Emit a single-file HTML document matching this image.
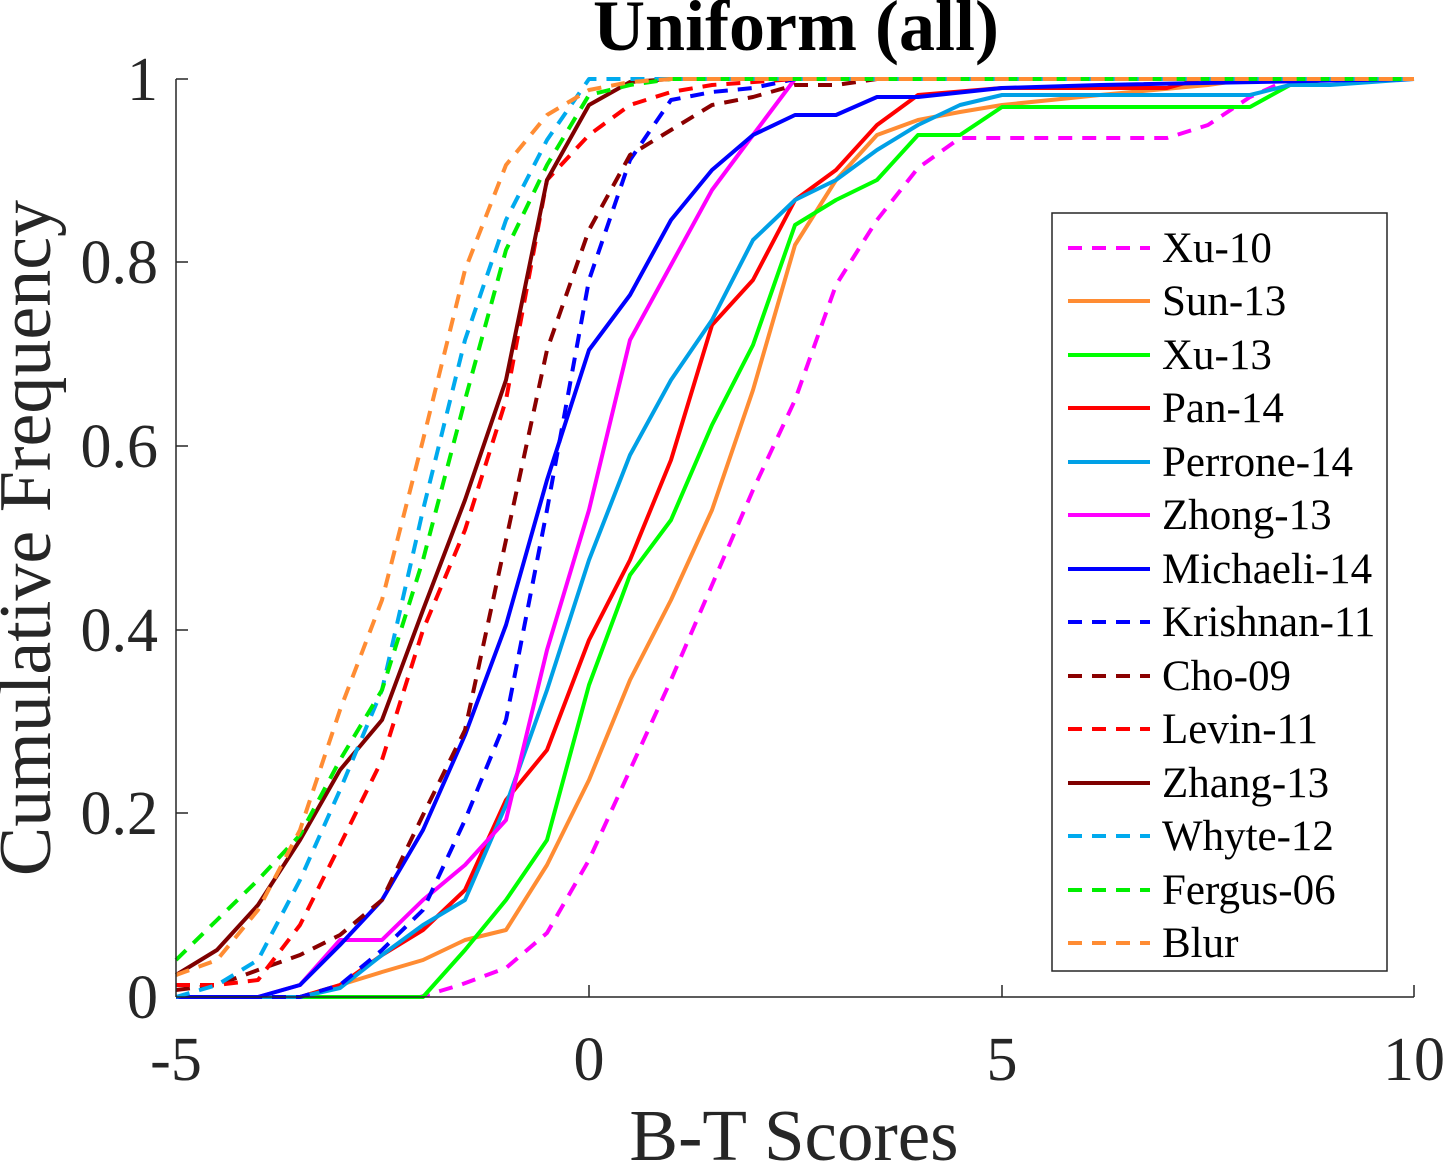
<!DOCTYPE html>
<html><head><meta charset="utf-8"><style>body{margin:0;background:#fff}svg{display:block}</style></head><body>
<svg width="1447" height="1166" xmlns="http://www.w3.org/2000/svg" font-family="Liberation Serif, serif">
<rect width="1447" height="1166" fill="#fff"/>
<g fill="none" stroke-width="4" stroke-linejoin="round">
<polyline stroke="#ff00ff" stroke-dasharray="14 10" points="176,997 420,997 460,985 506,968 547,933 589,860 630,770 671,680 712,585 753,490 795,400 836,285 877,220 918,168 960,138 1002,138 1167,138 1208,125 1250,97 1290,79 1414,79"/>
<polyline stroke="#ff8c33" points="176,997 300,997 340,985 382,972 423,960 465,940 506,930 547,865 589,780 630,680 671,600 712,510 753,390 795,245 836,180 877,135 918,120 960,112 1002,105 1100,95 1208,85 1250,79 1414,79"/>
<polyline stroke="#00ff00" points="176,997 423,997 465,950 506,900 547,840 589,685 630,575 671,520 712,425 753,345 795,225 836,200 877,180 918,135 960,135 1002,107 1250,107 1290,85 1330,79 1414,79"/>
<polyline stroke="#ff0000" points="176,997 300,997 340,985 382,955 423,930 465,890 506,800 547,750 589,640 630,560 671,460 712,325 753,280 795,200 836,170 877,125 918,95 1002,88 1167,88 1200,79 1414,79"/>
<polyline stroke="#00a0e6" points="176,997 300,997 340,988 382,955 423,925 465,900 506,805 547,690 589,560 630,455 671,380 712,320 753,240 795,200 836,180 877,150 918,125 960,105 1002,95 1250,95 1290,85 1330,85 1414,79"/>
<polyline stroke="#ff00ff" points="176,997 258,997 300,985 340,940 382,940 423,900 465,865 506,820 547,650 589,510 630,340 671,265 712,190 753,135 795,79 1414,79"/>
<polyline stroke="#0000ff" points="176,997 258,997 300,985 340,945 382,900 423,830 465,735 506,625 547,480 589,350 630,295 671,220 712,170 753,135 795,115 836,115 877,97 918,97 1002,88 1100,85 1414,79"/>
<polyline stroke="#0000ff" stroke-dasharray="14 10" points="176,997 300,997 340,985 382,950 423,910 465,820 506,720 547,510 589,280 630,160 671,100 712,92 753,88 795,79 1414,79"/>
<polyline stroke="#8b0000" stroke-dasharray="14 10" points="176,990 217,985 258,970 300,955 340,935 382,900 423,815 465,730 506,540 547,350 589,230 630,155 671,130 712,105 753,97 795,85 836,85 877,79 1414,79"/>
<polyline stroke="#ff0000" stroke-dasharray="14 10" points="176,985 217,985 258,980 300,925 340,845 382,760 423,630 465,530 506,400 547,180 589,135 630,105 671,92 712,85 795,79 1414,79"/>
<polyline stroke="#7f0000" points="176,975 217,950 258,905 300,840 340,770 382,720 423,610 465,500 506,380 547,180 589,105 630,82 671,79 1414,79"/>
<polyline stroke="#00aaee" stroke-dasharray="14 10" points="176,997 217,985 258,960 300,880 340,790 382,690 423,510 465,340 506,220 547,140 589,79 1414,79"/>
<polyline stroke="#00ee00" stroke-dasharray="14 10" points="176,960 217,920 258,880 300,835 340,760 382,690 423,560 465,400 506,250 547,165 589,95 630,85 671,79 1414,79"/>
<polyline stroke="#ff8c33" stroke-dasharray="14 10" points="176,975 217,960 258,910 300,830 340,710 382,600 423,440 465,270 506,165 547,115 589,90 630,82 671,79 1414,79"/>
</g>
<g stroke="#262626" stroke-width="1.5" fill="none">
<line x1="176" y1="997" x2="1414" y2="997"/>
<line x1="176" y1="79" x2="176" y2="997"/>
<line x1="589" y1="997" x2="589" y2="985"/><line x1="1002" y1="997" x2="1002" y2="985"/><line x1="1414" y1="997" x2="1414" y2="985"/>
<line x1="176" y1="813" x2="188" y2="813"/><line x1="176" y1="630" x2="188" y2="630"/><line x1="176" y1="446" x2="188" y2="446"/><line x1="176" y1="262" x2="188" y2="262"/><line x1="176" y1="79" x2="188" y2="79"/>
</g>
<g fill="#262626" font-size="62">
<g text-anchor="middle"><text x="176" y="1080">-5</text><text x="589" y="1080">0</text><text x="1002" y="1080">5</text><text x="1414" y="1080">10</text></g>
<g text-anchor="end"><text x="158" y="1018">0</text><text x="158" y="834">0.2</text><text x="158" y="651">0.4</text><text x="158" y="467">0.6</text><text x="158" y="283">0.8</text><text x="158" y="100">1</text></g>
<text x="794" y="1160" text-anchor="middle" font-size="73">B-T Scores</text>
<text transform="translate(50,538) rotate(-90)" text-anchor="middle" font-size="74">Cumulative Frequency</text>
</g>
<text x="796" y="50" text-anchor="middle" font-size="72" font-weight="bold" fill="#000">Uniform (all)</text>
<rect x="1052" y="213" width="335" height="758" fill="#fff" stroke="#262626" stroke-width="1.5"/>
<g stroke-width="4">
<line x1="1068" x2="1150" y1="248" y2="248" stroke="#ff00ff" stroke-dasharray="14 10"/>
<line x1="1068" x2="1150" y1="301" y2="301" stroke="#ff8c33"/>
<line x1="1068" x2="1150" y1="355" y2="355" stroke="#00ff00"/>
<line x1="1068" x2="1150" y1="408" y2="408" stroke="#ff0000"/>
<line x1="1068" x2="1150" y1="462" y2="462" stroke="#00a0e6"/>
<line x1="1068" x2="1150" y1="515" y2="515" stroke="#ff00ff"/>
<line x1="1068" x2="1150" y1="569" y2="569" stroke="#0000ff"/>
<line x1="1068" x2="1150" y1="622" y2="622" stroke="#0000ff" stroke-dasharray="14 10"/>
<line x1="1068" x2="1150" y1="676" y2="676" stroke="#8b0000" stroke-dasharray="14 10"/>
<line x1="1068" x2="1150" y1="729" y2="729" stroke="#ff0000" stroke-dasharray="14 10"/>
<line x1="1068" x2="1150" y1="783" y2="783" stroke="#7f0000"/>
<line x1="1068" x2="1150" y1="836" y2="836" stroke="#00aaee" stroke-dasharray="14 10"/>
<line x1="1068" x2="1150" y1="890" y2="890" stroke="#00ee00" stroke-dasharray="14 10"/>
<line x1="1068" x2="1150" y1="943" y2="943" stroke="#ff8c33" stroke-dasharray="14 10"/>
</g>
<g fill="#000" font-size="43">
<text x="1162" y="262">Xu-10</text><text x="1162" y="315">Sun-13</text><text x="1162" y="369">Xu-13</text><text x="1162" y="422">Pan-14</text><text x="1162" y="476">Perrone-14</text><text x="1162" y="529">Zhong-13</text><text x="1162" y="583">Michaeli-14</text><text x="1162" y="636">Krishnan-11</text><text x="1162" y="690">Cho-09</text><text x="1162" y="743">Levin-11</text><text x="1162" y="797">Zhang-13</text><text x="1162" y="850">Whyte-12</text><text x="1162" y="904">Fergus-06</text><text x="1162" y="957">Blur</text>
</g>
</svg>
</body></html>
